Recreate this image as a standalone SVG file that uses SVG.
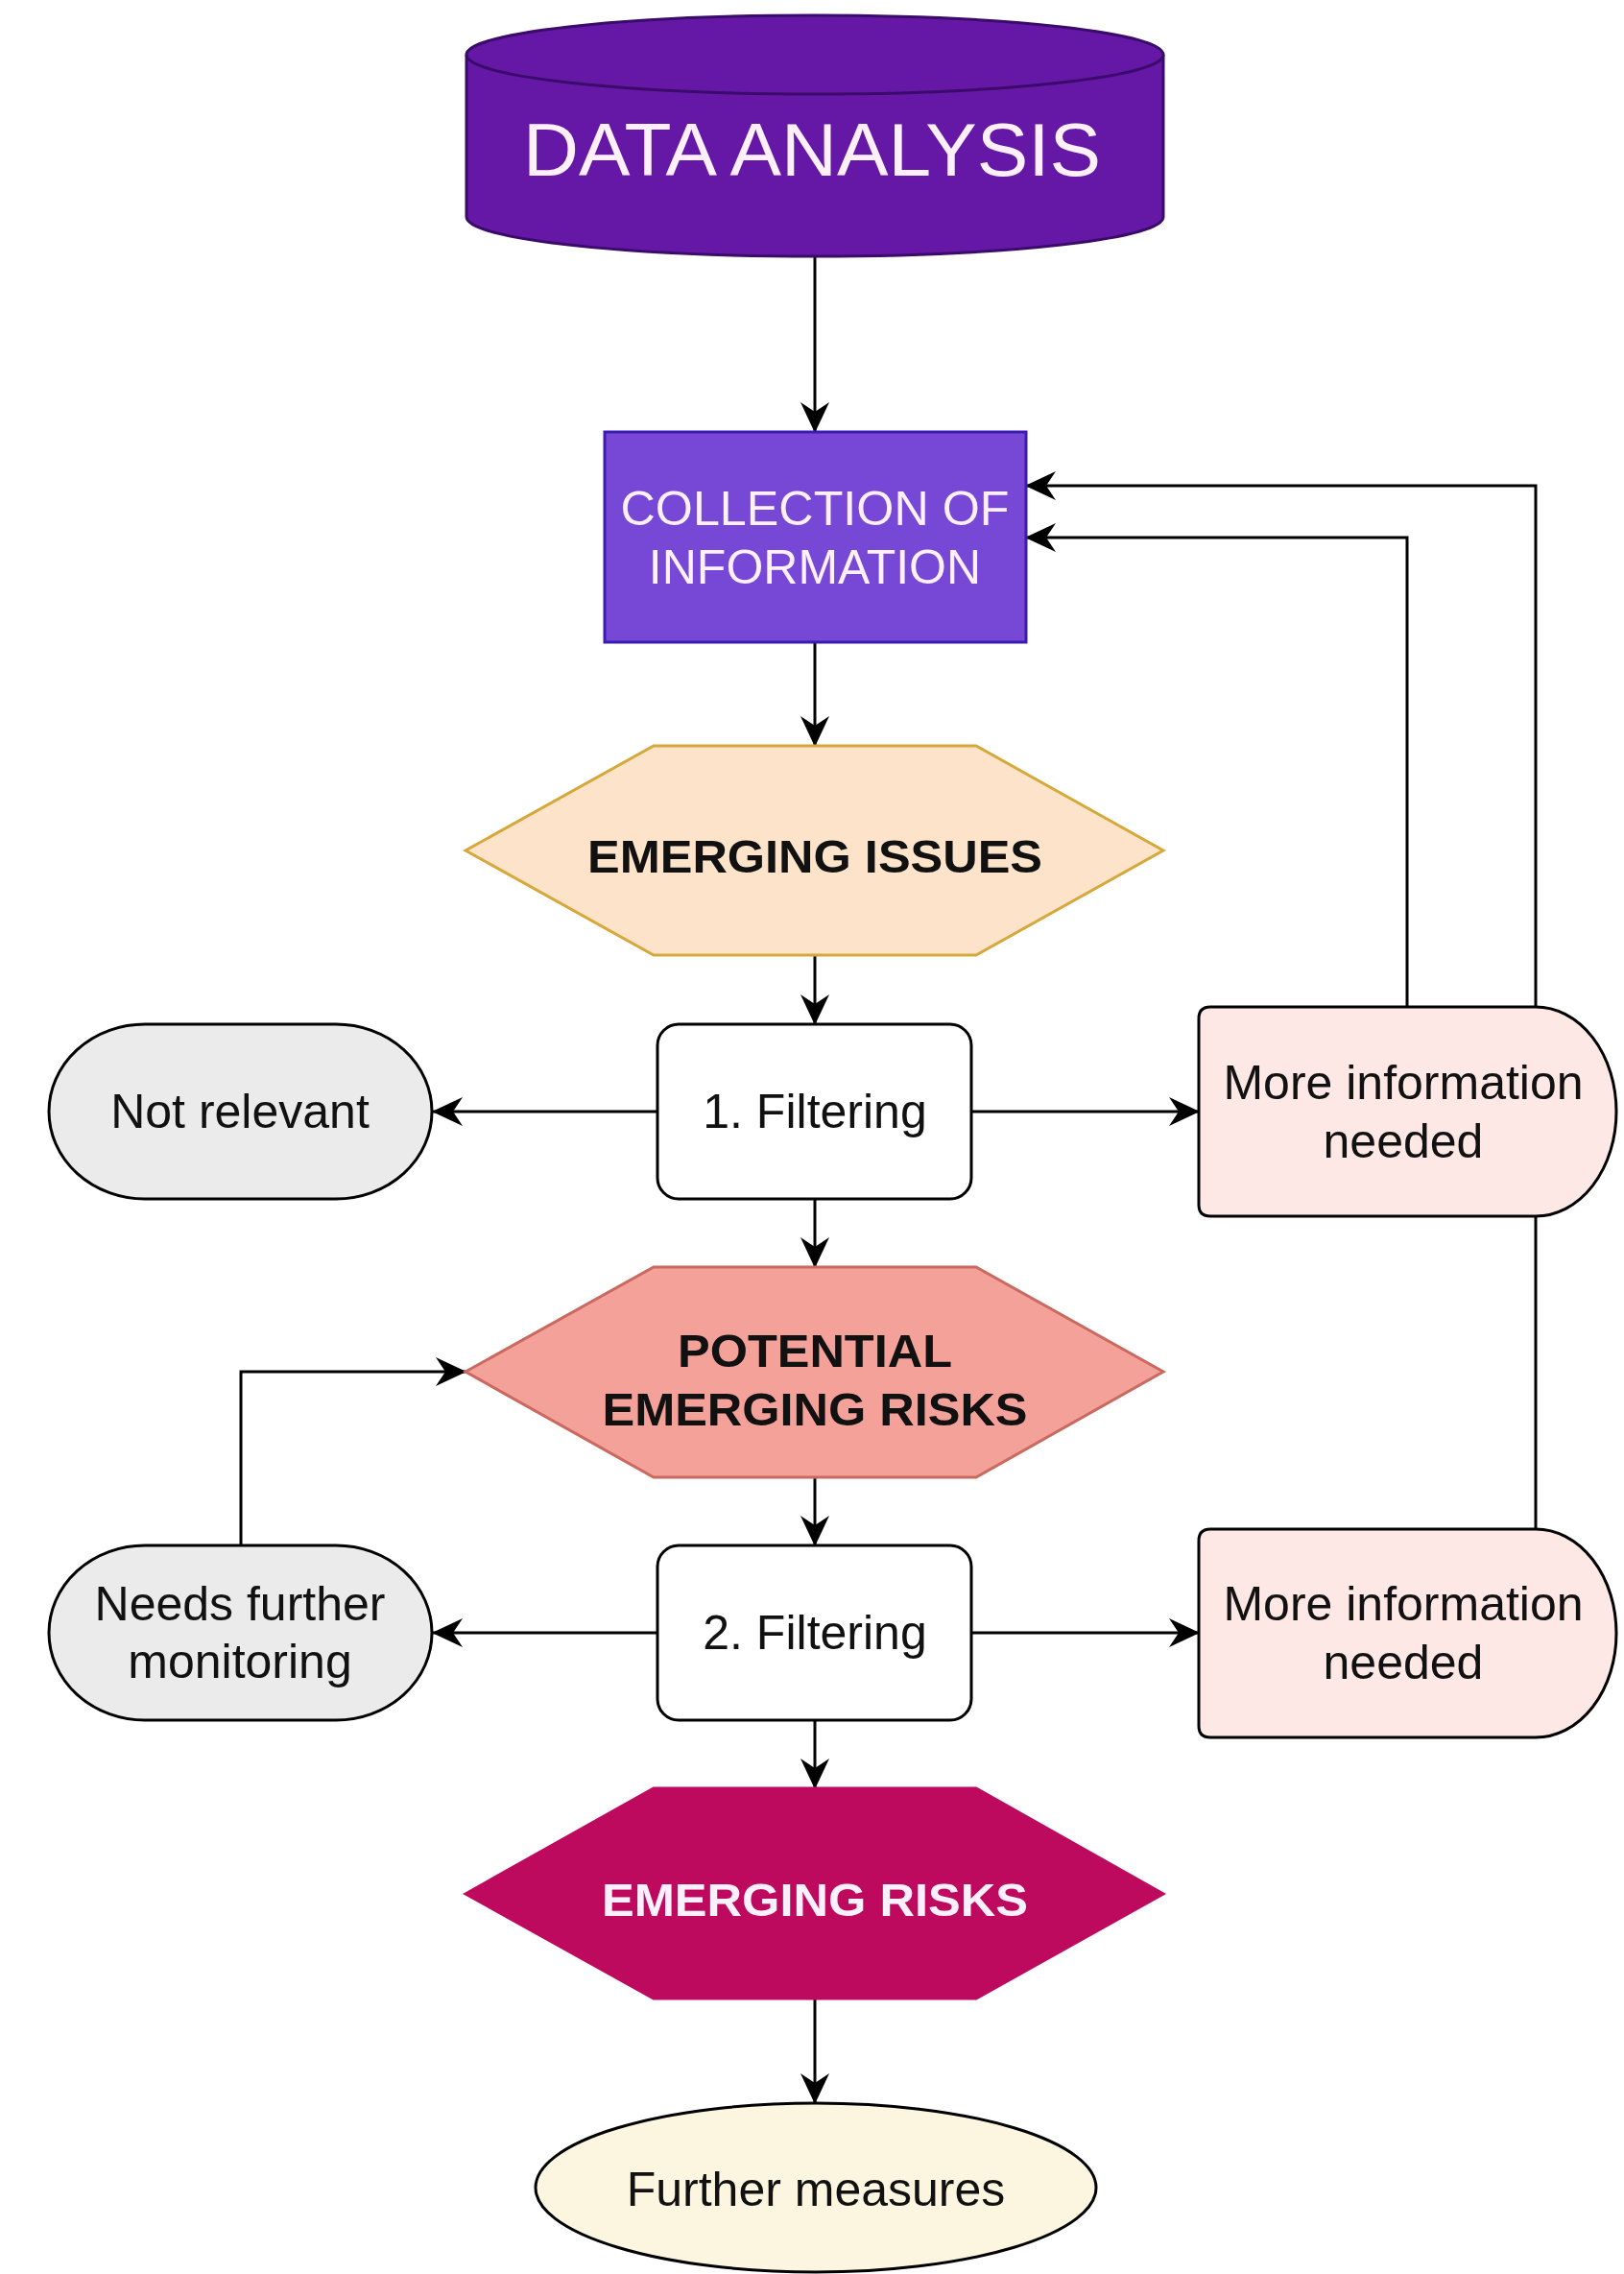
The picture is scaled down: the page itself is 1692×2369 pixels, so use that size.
<svg xmlns="http://www.w3.org/2000/svg" width="1692" height="2369" viewBox="0 0 1692 2369">
  <defs>
    <marker id="arrow" markerUnits="userSpaceOnUse" markerWidth="32" markerHeight="30" viewBox="0 0 32 30" refX="31" refY="15" orient="auto">
      <path d="M0,0 L32,15 L0,30 L10,15 Z" fill="#000"/>
    </marker>
    <style>
      .conn { fill: none; stroke: #000; stroke-width: 3; marker-end: url(#arrow); }
      .txt { font-family: "Liberation Sans", Arial, sans-serif; font-size: 50px; text-anchor: middle; fill: #111; }
      .bold { font-weight: bold; font-size: 48px; }
      .white { fill: #fdf0fb; }
      .node { stroke: #000; stroke-width: 3; }
    </style>
  </defs>
  <rect width="1692" height="2369" fill="#fff"/>

  <g id="connectors">
    <path class="conn" d="M849,267 V450"/>
    <path class="conn" d="M849,669 V777"/>
    <path class="conn" d="M849,995 V1067"/>
    <path class="conn" d="M684,1158 H451"/>
    <path class="conn" d="M1012,1158 H1249"/>
    <path class="conn" d="M1466,1049 V560 H1069"/>
    <path class="conn" d="M1600,1593 V506 H1069"/>
    <path class="conn" d="M849,1249 V1320"/>
    <path class="conn" d="M849,1539 V1610"/>
    <path class="conn" d="M684,1701 H451"/>
    <path class="conn" d="M1012,1701 H1249"/>
    <path class="conn" d="M251,1610 V1429 H485"/>
    <path class="conn" d="M849,1792 V1863"/>
    <path class="conn" d="M849,2082 V2191"/>
  </g>

  <g id="data-analysis">
    <path d="M486,57 V226 A363,41 0 0 0 1212,226 V57" fill="#6518a6" stroke="#3b0b6b" stroke-width="3"/>
    <ellipse cx="849" cy="57" rx="363" ry="41" fill="#6518a6" stroke="#3b0b6b" stroke-width="3"/>
    <text class="txt white" x="846" y="183" style="font-size:77px" textLength="602" lengthAdjust="spacingAndGlyphs">DATA ANALYSIS</text>
  </g>

  <g id="collection">
    <rect x="630" y="450" width="439" height="219" fill="#7747d6" stroke="#3a1bb5" stroke-width="3"/>
    <text class="txt white" x="849" y="547" textLength="405" lengthAdjust="spacingAndGlyphs">COLLECTION OF</text>
    <text class="txt white" x="849" y="608">INFORMATION</text>
  </g>

  <g id="emerging-issues">
    <polygon points="485,886 681,777 1017,777 1212,886 1017,995 681,995" fill="#fde3c9" stroke="#d6a83a" stroke-width="3"/>
    <text class="txt bold" x="849" y="909" textLength="474" lengthAdjust="spacingAndGlyphs">EMERGING ISSUES</text>
  </g>

  <g id="filtering-1">
    <rect class="node" x="685" y="1067" width="327" height="182" rx="22" fill="#fff"/>
    <text class="txt" x="849" y="1175">1. Filtering</text>
  </g>

  <g id="not-relevant">
    <rect class="node" x="51" y="1067" width="399" height="182" rx="100" ry="91" fill="#ebebeb"/>
    <text class="txt" x="250" y="1175">Not relevant</text>
  </g>

  <g id="more-info-1">
    <path class="node" d="M1261,1049 H1600 A84,109 0 0 1 1600,1267 H1261 Q1249,1267 1249,1255 V1061 Q1249,1049 1261,1049 Z" fill="#fde8e5"/>
    <text class="txt" x="1462" y="1145">More information</text>
    <text class="txt" x="1462" y="1206">needed</text>
  </g>

  <g id="potential-risks">
    <polygon points="485,1429 681,1320 1017,1320 1212,1429 1017,1539 681,1539" fill="#f4a199" stroke="#c9695f" stroke-width="3"/>
    <text class="txt bold" x="849" y="1424" textLength="286" lengthAdjust="spacingAndGlyphs">POTENTIAL</text>
    <text class="txt bold" x="849" y="1485" textLength="443" lengthAdjust="spacingAndGlyphs">EMERGING RISKS</text>
  </g>

  <g id="filtering-2">
    <rect class="node" x="685" y="1610" width="327" height="182" rx="22" fill="#fff"/>
    <text class="txt" x="849" y="1718">2. Filtering</text>
  </g>

  <g id="needs-monitoring">
    <rect class="node" x="51" y="1610" width="399" height="182" rx="100" ry="91" fill="#ebebeb"/>
    <text class="txt" x="250" y="1688">Needs further</text>
    <text class="txt" x="250" y="1748">monitoring</text>
  </g>

  <g id="more-info-2">
    <path class="node" d="M1261,1593 H1600 A84,108.5 0 0 1 1600,1810 H1261 Q1249,1810 1249,1798 V1605 Q1249,1593 1261,1593 Z" fill="#fde8e5"/>
    <text class="txt" x="1462" y="1688">More information</text>
    <text class="txt" x="1462" y="1749">needed</text>
  </g>

  <g id="emerging-risks">
    <polygon points="485,1973 681,1863 1017,1863 1212,1973 1017,2082 681,2082" fill="#be0a5e" stroke="#be0a5e" stroke-width="3"/>
    <text class="txt bold white" x="849" y="1996" textLength="444" lengthAdjust="spacingAndGlyphs">EMERGING RISKS</text>
  </g>

  <g id="further-measures">
    <ellipse class="node" cx="850" cy="2279" rx="292" ry="88" fill="#fcf5df"/>
    <text class="txt" x="850" y="2298">Further measures</text>
  </g>
</svg>
